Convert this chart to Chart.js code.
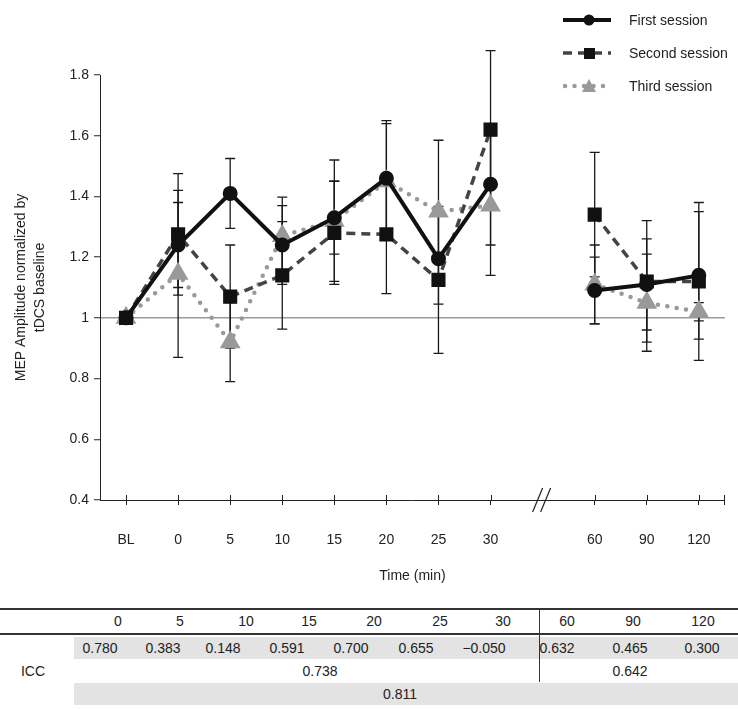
<!DOCTYPE html>
<html>
<head>
<meta charset="utf-8">
<script src="https://cdn.jsdelivr.net/npm/chart.js@4.4.1/dist/chart.umd.min.js"></script>
<style>
  body { margin: 0; background: #fff; font-family: "Liberation Sans", Arial, sans-serif; color: #222; }
  #wrap { position: relative; width: 738px; height: 709px; overflow: hidden; }
  #chart { position: absolute; left: 0; top: 0; }
  .legend-row { position: absolute; left: 563px; height: 20px; display: flex; align-items: center; font-size: 14px; }
  .legend-row svg { margin-right: 16px; }
  .cell { position: absolute; font-size: 14px; transform: translate(-50%, -50%); white-space: nowrap; }
  .hline { position: absolute; left: 0; width: 738px; background: #333; }
  .band { position: absolute; left: 74px; width: 664px; height: 22px; background: #e3e3e3; }
</style>
</head>
<body>
<div id="wrap">
  <canvas id="chart" width="738" height="600"></canvas>
  <div id="legend"></div>
  <div id="table"></div>
</div>
<script>
// time points on the x axis (empty slot = axis break)
const timeLabels = ['BL', '0', '5', '10', '15', '20', '25', '30', '', '60', '90', '120'];
const yTicks = [0.4, 0.6, 0.8, 1, 1.2, 1.4, 1.6, 1.8];

const firstSession = [1.00, 1.24, 1.41, 1.24, 1.33, 1.46, 1.195, 1.44, null, 1.09, 1.11, 1.14];
const firstErr = [0, 0.14, 0.115, 0.13, 0.12, 0.19, 0.15, 0.20, null, 0.11, 0.15, 0.21];

const secondSession = [1.00, 1.275, 1.07, 1.14, 1.28, 1.275, 1.125, 1.62, null, 1.34, 1.12, 1.12];
const secondErr = [0, 0.20, 0.17, 0.177, 0.17, 0.195, 0.242, 0.26, null, 0.205, 0.20, 0.26];

const thirdSession = [1.00, 1.145, 0.92, 1.27, 1.32, 1.45, 1.35, 1.37, null, 1.11, 1.05, 1.02];
const thirdErr = [0, 0.275, 0.13, 0.128, 0.20, 0.19, 0.235, 0.23, null, 0.13, 0.16, 0.03];

// ICC table
const iccTimes = ['0', '5', '10', '15', '20', '25', '30', '60', '90', '120'];
const iccValues = ['0.780', '0.383', '0.148', '0.591', '0.700', '0.655', '\u22120.050', '0.632', '0.465', '0.300'];
const iccEarly = '0.738';
const iccLate = '0.642';
const iccOverall = '0.811';

const breakIndex = 8;

const errorBars = {
    id: 'errorBars',
    beforeDatasetsDraw(chart) {
        const ctx = chart.ctx;
        const xs = chart.scales.x;
        const ys = chart.scales.y;
        ctx.save();
        ctx.strokeStyle = '#1a1a1a';
        ctx.lineWidth = 1.3;
        chart.data.datasets.forEach(ds => {
            ds.data.forEach((v, i) => {
                const e = ds.errors[i];
                if (v === null || !e) return;
                const x = xs.getPixelForValue(i);
                const yTop = ys.getPixelForValue(v + e);
                const yBot = ys.getPixelForValue(v - e);
                ctx.beginPath();
                ctx.moveTo(x, yTop); ctx.lineTo(x, yBot);
                ctx.moveTo(x - 5, yTop); ctx.lineTo(x + 5, yTop);
                ctx.moveTo(x - 5, yBot); ctx.lineTo(x + 5, yBot);
                ctx.stroke();
            });
        });
        ctx.restore();
    }
};

const axisExtras = {
    id: 'axisExtras',
    afterDraw(chart) {
        const ctx = chart.ctx;
        const xs = chart.scales.x;
        const bottom = chart.chartArea.bottom;
        ctx.save();
        ctx.strokeStyle = '#222';
        ctx.lineWidth = 1;
        // small tick marks poking above the axis
        timeLabels.forEach((lab, i) => {
            if (i === breakIndex) return;
            const x = Math.round(xs.getPixelForValue(i)) + 0.5;
            ctx.beginPath();
            ctx.moveTo(x, bottom - 5); ctx.lineTo(x, bottom);
            ctx.stroke();
        });
        const xr = Math.round(chart.chartArea.right) - 0.5;
        ctx.beginPath();
        ctx.moveTo(xr, bottom - 5); ctx.lineTo(xr, bottom + 5);
        ctx.stroke();
        // axis break
        const xb = xs.getPixelForValue(breakIndex);
        ctx.lineWidth = 1.2;
        [-5, 3].forEach(dx => {
            ctx.beginPath();
            ctx.moveTo(xb + dx - 5, bottom + 12);
            ctx.lineTo(xb + dx + 5, bottom - 12);
            ctx.stroke();
        });
        ctx.restore();
    }
};

const chart = new Chart(document.getElementById('chart'), {
    type: 'line',
    data: {
        labels: timeLabels,
        datasets: [
            {
                label: 'First session',
                data: firstSession,
                errors: firstErr,
                borderColor: '#111',
                backgroundColor: '#111',
                borderWidth: 4,
                pointStyle: 'circle',
                pointRadius: 5.5,
                spanGaps: false
            },
            {
                label: 'Second session',
                data: secondSession,
                errors: secondErr,
                borderColor: '#444',
                backgroundColor: '#111',
                pointBorderColor: '#111',
                borderWidth: 3.5,
                borderDash: [9, 6],
                pointStyle: 'rect',
                pointRadius: 7.5,
                spanGaps: false
            },
            {
                label: 'Third session',
                data: thirdSession,
                errors: thirdErr,
                borderColor: '#999',
                backgroundColor: '#999',
                borderWidth: 4.5,
                borderDash: [0, 9.5],
                borderCapStyle: 'round',
                pointStyle: 'triangle',
                pointRadius: 7.5,
                spanGaps: false
            }
        ]
    },
    options: {
        responsive: false,
        animation: false,
        events: [],
        layout: { padding: { top: 75, right: 3, left: 0, bottom: 0 } },
        plugins: { legend: { display: false }, tooltip: { enabled: false } },
        scales: {
            x: {
                type: 'category',
                offset: true,
                afterFit: s => { s.height = 100; },
                grid: {
                    offset: false,
                    drawOnChartArea: false,
                    tickLength: 5,
                    tickColor: c => c.index === breakIndex ? 'rgba(0,0,0,0)' : '#222'
                },
                border: { color: '#222', width: 1 },
                ticks: { autoSkip: false, maxRotation: 0, padding: 27, color: '#222', font: { family: '"Liberation Sans", Arial, sans-serif', size: 14 } },
                title: { display: true, text: 'Time (min)', color: '#222', padding: { top: 4, bottom: 15 }, font: { family: '"Liberation Sans", Arial, sans-serif', size: 14 } }
            },
            y: {
                min: yTicks[0],
                max: yTicks[yTicks.length - 1],
                afterFit: s => { s.width = 100; },
                afterBuildTicks: s => { s.ticks = yTicks.map(v => ({ value: v })); },
                grid: {
                    color: c => c.tick && Math.abs(c.tick.value - 1) < 1e-6 ? '#9a9a9a' : 'rgba(0,0,0,0)',
                    lineWidth: 1.5,
                    tickColor: '#222',
                    tickWidth: 1,
                    tickLength: 6
                },
                border: { color: '#222', width: 1 },
                ticks: {
                    padding: 5,
                    color: '#222',
                    font: { family: '"Liberation Sans", Arial, sans-serif', size: 14 },
                    callback: v => String(+Number(v).toFixed(1))
                },
                title: {
                    display: true,
                    text: ['MEP Amplitude normalized by', 'tDCS baseline'],
                    color: '#222',
                    padding: { top: 12, bottom: 0 },
                    font: { family: '"Liberation Sans", Arial, sans-serif', size: 14, lineHeight: 1.35 }
                }
            }
        }
    },
    plugins: [errorBars, axisExtras]
});

// legend
const legendEl = document.getElementById('legend');
const legendSamples = [
    '<line x1="0" y1="10" x2="48" y2="10" stroke="#111" stroke-width="4"/><circle cx="26" cy="10" r="5.5" fill="#111"/>',
    '<line x1="0" y1="10" x2="48" y2="10" stroke="#444" stroke-width="3.5" stroke-dasharray="9 6"/><rect x="21" y="5" width="11" height="11" fill="#111"/>',
    '<line x1="2" y1="10" x2="48" y2="10" stroke="#999" stroke-width="4.5" stroke-dasharray="0 9.5" stroke-linecap="round"/><polygon points="26,3 33,16 19,16" fill="#999"/>'
];
const legendTops = [10, 43, 76];
chart.data.datasets.forEach((ds, i) => {
    const row = document.createElement('div');
    row.className = 'legend-row';
    row.style.top = legendTops[i] + 'px';
    row.innerHTML = '<svg width="50" height="20">' + legendSamples[i] + '</svg><span>' + ds.label + '</span>';
    legendEl.appendChild(row);
});

// ICC table
const tableEl = document.getElementById('table');
const headerX = [118, 180, 246, 309, 374, 440, 503, 567, 633, 703];
const valueX = [100, 163, 223, 287, 351, 416, 484, 557, 630, 702];
function addCell(text, x, y) {
    const d = document.createElement('div');
    d.className = 'cell';
    d.style.left = x + 'px';
    d.style.top = y + 'px';
    d.textContent = text;
    tableEl.appendChild(d);
}
function addBox(cls, style) {
    const d = document.createElement('div');
    d.className = cls;
    Object.assign(d.style, style);
    tableEl.appendChild(d);
}
addBox('band', { top: '637px' });
addBox('band', { top: '683px' });
addBox('hline', { top: '608px', height: '2px' });
addBox('hline', { top: '633px', height: '1.5px' });
addBox('hline', { top: '609px', left: '539px', width: '1px', height: '73px' });
iccTimes.forEach((t, i) => addCell(t, headerX[i], 621));
iccValues.forEach((v, i) => addCell(v, valueX[i], 648));
addCell('ICC', 33, 671);
addCell(iccEarly, 320, 671);
addCell(iccLate, 630, 671);
addCell(iccOverall, 400, 694);
</script>
</body>
</html>
